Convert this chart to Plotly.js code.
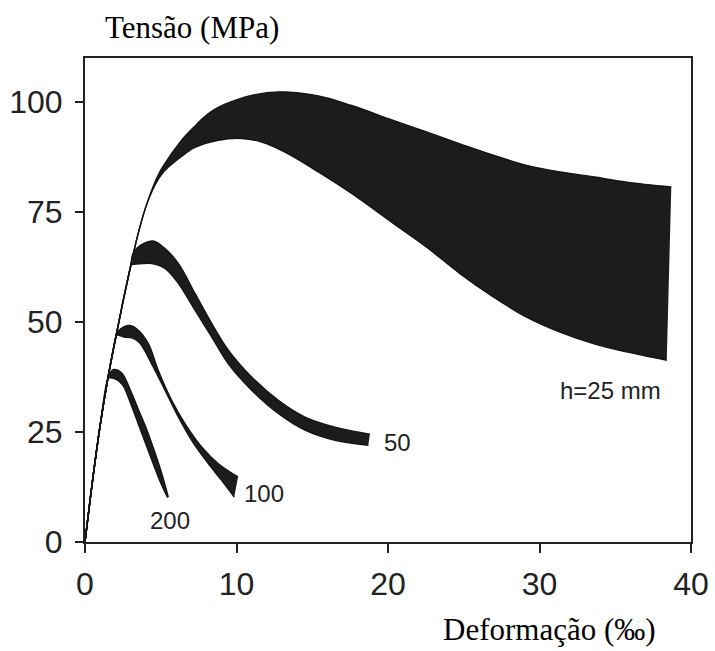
<!DOCTYPE html>
<html>
<head>
<meta charset="utf-8">
<script src="https://cdn.plot.ly/plotly-3.0.1.min.js"></script>
<style>html,body{margin:0;padding:0;background:#fff;}</style>
</head>
<body>
<div id="chart" style="width:715px;height:651px;"></div>
<script>
// Shared elastic loading branch (strain ‰, stress MPa)
const loadX = [0, 0.5, 1.0, 1.5, 2.0, 2.5, 3.0, 3.5, 4.0];
const loadY = [0, 14, 26.5, 37, 46, 54.5, 62.5, 70, 76];

// h = 25 mm band
const h25UpperX = [4.5, 5.0, 5.5, 6.0, 6.6, 7.2, 7.7, 8.5, 9.24, 11.0, 12.76, 15.4, 17.6, 20.35, 22.55, 24.75, 26.95, 29.15, 31.35, 33.55, 35.75, 38.7];
const h25UpperY = [80.8, 84.5, 87.2, 89.6, 92.2, 94.3, 96.1, 98.2, 99.5, 101.5, 102.3, 101.4, 99.2, 95.8, 93.2, 90.5, 87.9, 85.6, 84.1, 83.0, 81.8, 80.7];
const h25LowerX = [4.5, 5.0, 5.5, 5.94, 6.6, 7.26, 8.8, 10.34, 11.66, 13.2, 15.4, 17.6, 20.35, 22.55, 24.75, 26.95, 29.15, 31.35, 33.55, 35.75, 38.4];
const h25LowerY = [80.3, 83.3, 85.2, 86.5, 88.2, 89.7, 91.3, 91.7, 90.9, 88.6, 84.1, 79.2, 72.4, 67.0, 61.0, 55.7, 51.1, 47.7, 45.1, 43.2, 41.3];

// h = 50 mm band
const h50UpperX = [3.2, 3.85, 4.5, 5.28, 6.16, 7.26, 8.36, 9.46, 11.0, 12.76, 14.52, 16.5, 18.8];
const h50UpperY = [65.8, 67.8, 68.4, 66.7, 63.3, 56.5, 49.7, 43.6, 37.5, 32.2, 28.4, 26.1, 24.5];
const h50LowerX = [3.05, 3.6, 4.4, 5.28, 6.16, 7.26, 8.36, 9.46, 11.0, 12.76, 14.52, 16.5, 18.7];
const h50LowerY = [63.0, 63.2, 63.3, 62.2, 58.8, 52.7, 46.6, 40.5, 34.5, 29.2, 25.4, 23.1, 22.0];

// h = 100 mm band
const h100UpperX = [2.1, 2.5, 2.95, 3.5, 4.18, 4.84, 5.72, 6.6, 7.7, 8.8, 10.1];
const h100UpperY = [47.5, 48.8, 49.2, 48.2, 45.1, 39.0, 32.2, 26.9, 21.6, 17.8, 14.8];
const h100LowerX = [2.1, 2.6, 3.1, 3.6, 4.4, 5.28, 6.16, 7.04, 8.14, 9.02, 9.85];
const h100LowerY = [47.0, 46.6, 46.4, 45.3, 40.5, 34.5, 28.4, 23.1, 17.8, 14.0, 10.2];

// h = 200 mm band
const h200UpperX = [1.55, 1.9, 2.4, 3.0, 3.5, 4.0, 4.5, 5.0, 5.5];
const h200UpperY = [37.8, 39.2, 38.5, 34.5, 30.3, 26.2, 21.5, 16.3, 10.2];
const h200LowerX = [1.6, 2.1, 2.5, 3.0, 3.5, 4.0, 4.5, 5.0, 5.45];
const h200LowerY = [37.3, 36.9, 35.6, 31.6, 27.0, 22.4, 17.8, 13.4, 10.1];

// Labels
const labelText = ["h=25 mm", "50", "100", "200"];
const labelX = [34.7, 20.6, 11.8, 5.6];
const labelY = [34.5, 22.6, 11.0, 4.9];

const xTicks = [0, 10, 20, 30, 40];
const yTicks = [0, 25, 50, 75, 100];

const INK = '#1c1c1c';

function edge(x, y, fill) {
  return {
    x: x, y: y, type: 'scatter', mode: 'lines', fill: fill,
    fillcolor: INK, line: {color: '#141414', width: 1.4, shape: 'spline', smoothing: 1.0},
    hoverinfo: 'skip', showlegend: false
  };
}

function band(ux, uy, lx, ly) {
  const start = Math.min(ux[0], lx[0]);
  const px = [], py = [];
  for (let i = 0; i < loadX.length; i++) if (loadX[i] < start) { px.push(loadX[i]); py.push(loadY[i]); }
  return [
    edge(px.concat(lx), py.concat(ly), 'none'),
    edge(px.concat(ux), py.concat(uy), 'tonexty')
  ];
}

const traces = [].concat(
  band(h25UpperX, h25UpperY, h25LowerX, h25LowerY),
  band(h50UpperX, h50UpperY, h50LowerX, h50LowerY),
  band(h100UpperX, h100UpperY, h100LowerX, h100LowerY),
  band(h200UpperX, h200UpperY, h200LowerX, h200LowerY)
);

const annotations = labelText.map((t, i) => ({
  x: labelX[i], y: labelY[i], xref: 'x', yref: 'y', text: t, showarrow: false,
  font: {family: 'Liberation Sans, Arial, sans-serif', size: 24, color: '#222'},
  xanchor: 'center', yanchor: 'middle'
}));
annotations.push({
  x: 0.1766, y: 1.062, xref: 'paper', yref: 'paper', text: 'Tensão (MPa)', showarrow: false,
  font: {family: 'Liberation Serif, Times New Roman, serif', size: 31, color: '#000'},
  xanchor: 'center', yanchor: 'middle'
});
annotations.push({
  x: 0.767, y: -0.18, xref: 'paper', yref: 'paper', text: 'Deformação (‰)', showarrow: false,
  font: {family: 'Liberation Serif, Times New Roman, serif', size: 31, color: '#000'},
  xanchor: 'center', yanchor: 'middle'
});

const layout = {
  width: 715, height: 651,
  margin: {l: 85, r: 24, t: 58, b: 109},
  paper_bgcolor: '#fff', plot_bgcolor: '#fff',
  xaxis: {
    range: [0, 40], tickvals: xTicks, ticktext: xTicks.map(String),
    showgrid: false, zeroline: false, showline: true, linecolor: '#222', linewidth: 2,
    mirror: true, ticks: 'outside', ticklen: 9, tickwidth: 2, tickcolor: '#222',
    tickfont: {family: 'Liberation Sans, Arial, sans-serif', size: 32, color: '#222'},
    ticklabelstandoff: 4
  },
  yaxis: {
    range: [0, 110], tickvals: yTicks, ticktext: yTicks.map(String),
    showgrid: false, zeroline: false, showline: true, linecolor: '#222', linewidth: 2,
    mirror: true, ticks: 'outside', ticklen: 8, tickwidth: 2, tickcolor: '#222',
    tickfont: {family: 'Liberation Sans, Arial, sans-serif', size: 32, color: '#222'},
    ticklabelstandoff: 6
  },
  annotations: annotations
};

Plotly.newPlot('chart', traces, layout, {displayModeBar: false, staticPlot: true});
</script>
</body>
</html>
